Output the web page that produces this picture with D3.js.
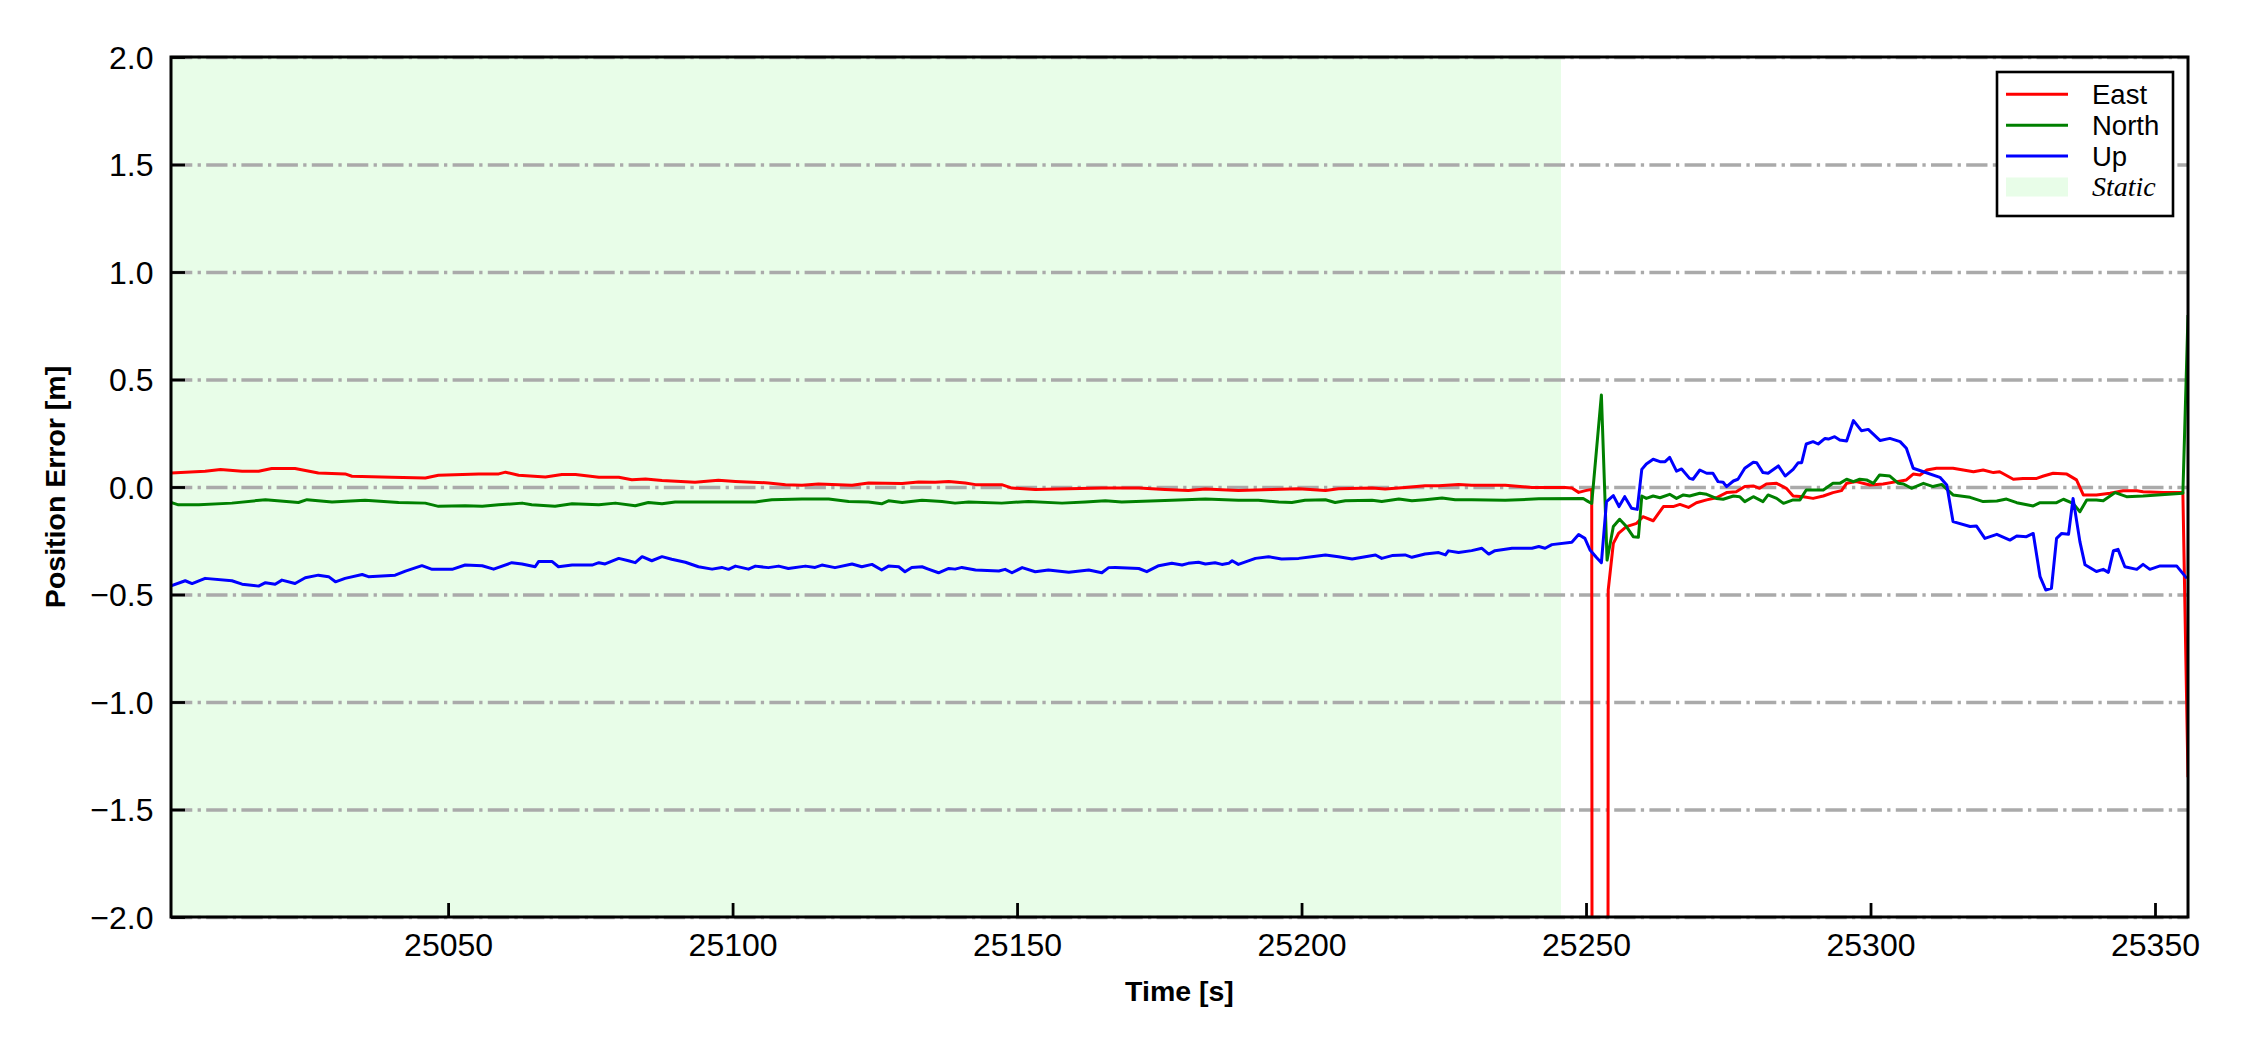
<!DOCTYPE html>
<html><head><meta charset="utf-8">
<script src="https://cdn.jsdelivr.net/npm/d3@7"></script>
<style>html,body{margin:0;padding:0;background:#fff;} svg{display:block;}</style>
</head><body><svg id="c" width="2250" height="1050"></svg>
<script>
// ---------- data ----------
const xDomain = [25001.3, 25355.8];
const yDomain = [-2, 2];
const xTicks = [25050, 25100, 25150, 25200, 25250, 25300, 25350];
const yTicks = [-2, -1.5, -1, -0.5, 0, 0.5, 1, 1.5, 2];
const staticSpan = [25001.3, 25245.6];
const seriesNames = ["East", "North", "Up"];
const staticLabel = "Static";
const xLabel = "Time [s]";
const yLabel = "Position Error [m]";

const east = [[25001.3,0.065],[25007.3,0.073],[25010,0.081],[25013.8,0.073],[25016.7,0.073],[25019,0.086],[25023.1,0.086],[25027.2,0.065],[25031.9,0.061],[25033.1,0.050],[25040.1,0.045],[25046,0.042],[25048.3,0.055],[25055.4,0.061],[25058.9,0.061],[25060.1,0.069],[25062.4,0.055],[25067.1,0.047],[25070,0.058],[25072.4,0.058],[25076.5,0.045],[25080,0.045],[25082.3,0.034],[25084.7,0.037],
[25087.6,0.030],[25093.4,0.022],[25097.5,0.031],[25100.5,0.026],[25106.3,0.019],[25109.3,0.011],[25112.2,0.008],[25115.1,0.014],[25121,0.008],[25123.9,0.019],[25129.8,0.016],[25132.7,0.023],[25135.6,0.022],[25138,0.026],[25140.9,0.019],[25142.7,0.011],[25147.3,0.011],[25149.1,-0.005],[25153.2,-0.012],[25159.1,-0.008],[25164.9,-0.005],
[25171.4,-0.005],[25176,-0.012],[25180.1,-0.016],[25183.1,-0.009],[25188.9,-0.016],[25194.8,-0.012],[25199.5,-0.008],[25204.2,-0.016],[25206.5,-0.008],[25212.4,-0.005],[25214.7,-0.009],[25218.2,-0.002],[25221.7,0.006],[25224.1,0.006],[25227.6,0.012],[25229.9,0.008],[25235.8,0.008],[25240.5,-0.002],[25246.3,-0.002],[25247.5,-0.005],[25248.7,-0.025],[25249.9,-0.017],[25251,-0.011],[25252,-40],[25253,-40],[25253.9,-0.479],[25254.8,-0.262],[25255.7,-0.216],[25257.1,-0.184],[25258.9,-0.169],[25260,-0.138],[25261.8,-0.157],[25263.6,-0.091],[25265.3,-0.091],[25266.5,-0.081],[25268,-0.095],[25269.4,-0.073],[25271.2,-0.060],[25272.9,-0.050],[25274.7,-0.026],[25276.4,-0.022],[25277.9,0.002],[25279.4,0.005],[25280.5,-0.006],[25281.7,0.014],[25283.5,0.017],[25285.2,-0.006],[25286.4,-0.042],[25288.2,-0.045],[25289.9,-0.053],[25291.7,-0.042],[25293.4,-0.026],[25294.9,-0.017],[25295.8,0.017],[25297.5,0.025],[25299.9,0.009],
[25302.2,0.014],[25304.6,0.025],[25306.3,0.033],[25307.5,0.060],[25308.7,0.056],[25309.9,0.079],[25311.6,0.087],[25314.5,0.087],[25316.3,0.079],[25318.1,0.071],[25319.8,0.079],[25321.6,0.067],[25322.7,0.071],[25325.1,0.036],[25326.8,0.040],[25329.2,0.040],[25330.4,0.051],[25332.1,0.064],[25334.5,0.060],[25336.2,0.033],[25337.4,-0.037],[25339.7,-0.037],[25342.1,-0.029],[25344.4,-0.017],[25346.8,-0.017],[25347.9,-0.022],[25351.5,-0.026],[25354.9,-0.026],[25355.8,-1.35]];

const north = [[25001.3,-0.072],[25002.6,-0.083],[25006.2,-0.083],[25012,-0.075],[25017.9,-0.059],[25023.7,-0.072],[25025.2,-0.059],[25029.6,-0.070],[25035.4,-0.062],[25041.3,-0.072],[25046,-0.075],[25048.3,-0.090],[25053,-0.087],[25056,-0.090],[25058.9,-0.083],[25063,-0.075],[25064.7,-0.083],[25068.8,-0.090],[25071.8,-0.078],[25076.5,-0.083],[25079.4,-0.075],[25082.9,-0.087],[25085.2,-0.072],[25087.6,-0.078],[25089.9,-0.070],[25094.6,-0.070],[25100.5,-0.070],[25104,-0.070],[25106.9,-0.059],[25112.2,-0.056],[25116.9,-0.056],[25120.4,-0.067],[25123.9,-0.070],[25126.2,-0.078],[25127.4,-0.064],[25129.8,-0.072],[25133.3,-0.062],[25136.8,-0.067],[25139.1,-0.075],[25141.5,-0.070],[25147.3,-0.075],[25152,-0.067],[25157.9,-0.075],[25162,-0.070],[25165.5,-0.064],[25168.4,-0.070],[25177.2,-0.062],[25183.1,-0.056],[25188.9,-0.062],[25192.4,-0.062],[25196,-0.070],[25198.3,-0.072],[25200.6,-0.062],[25204.2,-0.059],[25205.9,-0.072],[25207.7,-0.064],[25212.4,-0.062],[25214.1,-0.067],[25217.1,-0.056],[25219.4,-0.064],[25221.7,-0.059],[25224.7,-0.051],[25227,-0.059],[25229.9,-0.059],[25235.8,-0.062],[25241.7,-0.055],[25249.5,-0.053],[25250.4,-0.068],[25251,-0.076],[25252.7,0.428],[25253.7,-0.340],[25254.8,-0.184],[25255.9,-0.150],[25257.1,-0.184],[25258.3,-0.231],[25259.2,-0.234],[25259.8,-0.042],[25260.6,-0.053],[25261.8,-0.042],[25263,-0.050],[25264.7,-0.034],[25265.9,-0.053],[25267.1,-0.037],[25268.2,-0.042],[25270,-0.029],[25271.2,-0.034],[25272.9,-0.053],[25274.1,-0.057],[25275.9,-0.042],[25277,-0.045],[25277.9,-0.068],[25279.4,-0.045],[25281.1,-0.068],[25282,-0.037],[25283.5,-0.053],[25284.7,-0.076],[25286.4,-0.060],[25287.6,-0.060],[25288.7,-0.014],[25291.7,-0.014],[25293.4,0.017],[25294.6,0.017],[25295.8,0.036],[25297,0.025],[25298.1,0.036],[25299.3,0.033],[25300.5,0.017],[25301.6,0.056],[25303.4,0.051],[25304.9,0.017],[25305.8,0.014],[25307.2,-0.006],[25309.3,0.017],[25311,0.002],[25312.5,0.012],[25314.5,-0.037],[25317.5,-0.048],[25319.8,-0.068],[25322.2,-0.065],[25323.9,-0.056],[25325.7,-0.073],[25328.6,-0.088],[25329.8,-0.073],[25332.7,-0.073],[25333.9,-0.057],[25335.6,-0.076],[25336.8,-0.115],[25338,-0.060],[25339.7,-0.060],[25340.9,-0.064],[25343,-0.026],[25345,-0.045],[25347.9,-0.042],[25354.9,-0.029],[25355.8,0.80]];

const up = [[25001.3,-0.460],[25003.8,-0.436],[25005,-0.449],[25007.3,-0.425],[25012,-0.436],[25013.8,-0.452],[25016.7,-0.461],[25017.9,-0.445],[25019.6,-0.452],[25020.8,-0.433],[25023.1,-0.449],[25024.9,-0.422],[25027.2,-0.410],[25029,-0.417],[25030.2,-0.441],[25031.9,-0.425],[25034.9,-0.407],[25036,-0.417],[25040.7,-0.410],[25042.5,-0.391],[25045.4,-0.366],[25047.2,-0.383],[25050.7,-0.383],[25053,-0.363],[25056,-0.366],[25058,-0.382],[25061.2,-0.352],[25063,-0.358],[25065.3,-0.371],[25065.9,-0.347],[25068.3,-0.347],[25069.4,-0.371],[25071.8,-0.363],[25075.3,-0.363],[25076.5,-0.352],[25077.6,-0.358],[25080,-0.332],[25081.7,-0.343],[25082.9,-0.352],[25084.1,-0.324],[25085.8,-0.343],[25087.6,-0.324],[25089.3,-0.336],[25091.7,-0.350],[25094,-0.371],[25096.4,-0.382],[25098.1,-0.374],[25099.3,-0.383],[25100.5,-0.368],[25102.8,-0.382],[25104,-0.368],[25106.3,-0.375],[25108.1,-0.368],[25109.8,-0.379],[25112.8,-0.368],[25114.5,-0.374],[25115.7,-0.363],[25118,-0.375],[25121,-0.358],[25122.7,-0.371],[25124.5,-0.360],[25126.2,-0.386],[25127.4,-0.368],[25129.2,-0.371],[25130.3,-0.394],[25131.5,-0.374],[25133.3,-0.371],[25134.4,-0.382],[25136.2,-0.399],[25138,-0.379],[25139.1,-0.382],[25140.3,-0.374],[25142.7,-0.386],[25146.8,-0.391],[25147.9,-0.383],[25149.1,-0.399],[25150.9,-0.375],[25153.2,-0.394],[25155.5,-0.386],[25159.1,-0.397],[25162.6,-0.386],[25164.9,-0.399],[25166.1,-0.375],[25167.3,-0.374],[25171.4,-0.379],[25172.8,-0.394],[25174.9,-0.366],[25177.2,-0.355],[25179,-0.363],[25180.1,-0.355],[25181.9,-0.350],[25183.1,-0.358],[25184.8,-0.352],[25186,-0.360],[25187.2,-0.355],[25187.8,-0.343],[25188.9,-0.360],[25191.9,-0.332],[25194.2,-0.324],[25196.5,-0.335],[25199.5,-0.332],[25201.8,-0.324],[25204.2,-0.316],[25206.5,-0.324],[25208.9,-0.335],[25211.2,-0.324],[25213,-0.316],[25214.1,-0.332],[25215.9,-0.319],[25218.2,-0.316],[25219.4,-0.327],[25221.7,-0.312],[25224.1,-0.305],[25225.3,-0.316],[25225.8,-0.297],[25227.6,-0.305],[25229.9,-0.296],[25231.7,-0.285],[25232.9,-0.312],[25234,-0.296],[25237,-0.285],[25240.5,-0.285],[25241.7,-0.277],[25242.8,-0.285],[25244,-0.268],[25247.5,-0.257],[25248.7,-0.221],[25249.8,-0.239],[25250.7,-0.293],[25251.8,-0.327],[25252.7,-0.352],[25253.6,-0.068],[25254.8,-0.040],[25255.8,-0.091],[25256.8,-0.045],[25258,-0.099],[25259,-0.104],[25259.8,0.082],[25260.6,0.107],[25261.8,0.129],[25263,0.118],[25263.9,0.118],[25264.7,0.138],[25265.9,0.074],[25266.8,0.084],[25268.2,0.040],[25268.8,0.036],[25270,0.079],[25271.2,0.064],[25272.3,0.064],[25273.2,0.025],[25274.1,0.022],[25274.7,0.002],[25275.9,0.028],[25276.7,0.036],[25277.9,0.087],[25279.4,0.115],[25280,0.113],[25281.1,0.067],[25282,0.064],[25283.8,0.098],[25285,0.051],[25286.4,0.082],[25287.3,0.113],[25287.9,0.113],[25288.7,0.200],[25289.9,0.211],[25290.8,0.200],[25292,0.226],[25292.6,0.223],[25293.7,0.234],[25294.6,0.219],[25295.8,0.214],[25297,0.309],[25298.4,0.262],[25299.6,0.268],[25301.7,0.216],[25303.4,0.226],[25305.2,0.211],[25306.3,0.180],[25307.5,0.087],[25309.3,0.071],[25312.2,0.045],[25313.4,0.009],[25314.5,-0.161],[25317.5,-0.184],[25318.6,-0.181],[25320.1,-0.239],[25322.2,-0.220],[25324.5,-0.247],[25325.7,-0.228],[25327.4,-0.231],[25328.6,-0.216],[25329.8,-0.417],[25330.8,-0.479],[25331.8,-0.471],[25332.7,-0.239],[25333.6,-0.216],[25334.8,-0.220],[25335.6,-0.053],[25336.8,-0.254],[25337.7,-0.362],[25339.7,-0.393],[25340.9,-0.383],[25341.8,-0.397],[25342.7,-0.296],[25343.5,-0.290],[25344.7,-0.371],[25346.8,-0.383],[25347.9,-0.360],[25349.1,-0.383],[25350.9,-0.367],[25353.8,-0.367],[25355.6,-0.425]];

// ---------- styles / layout ----------
const seriesColors = ["#ff0000", "#008000", "#0000ff"];
const staticColor = "#e8fde8";
const SANS = "'Liberation Sans', Arial, Helvetica, sans-serif";
const SERIF = "'Liberation Serif', 'Times New Roman', serif";
const W = 2250, H = 1050;
const m = {l: 171, r: 2188, t: 57, b: 917};

const svg = d3.select("#c");
svg.append("rect").attr("width", W).attr("height", H).attr("fill", "#fff");

const x = d3.scaleLinear().domain(xDomain).range([m.l, m.r]);
const y = d3.scaleLinear().domain(yDomain).range([m.b, m.t]);

svg.append("defs").append("clipPath").attr("id", "clip")
  .append("rect").attr("x", m.l).attr("y", m.t).attr("width", m.r - m.l).attr("height", m.b - m.t);

// static span
svg.append("rect")
  .attr("x", x(staticSpan[0])).attr("y", m.t)
  .attr("width", x(staticSpan[1]) - x(staticSpan[0])).attr("height", m.b - m.t)
  .attr("fill", staticColor).attr("clip-path", "url(#clip)");

// grid
const grid = svg.append("g").attr("transform", `translate(${m.l},0)`)
  .call(d3.axisLeft(y).tickValues(yTicks).tickSize(-(m.r - m.l)).tickFormat(""));
grid.select(".domain").remove();
grid.selectAll("line").attr("stroke", "#aaaaaa").attr("stroke-width", 3.3)
  .attr("stroke-dasharray", "21.3,5.3,3.3,5.3");

// lines
const line = d3.line().x(d => x(d[0])).y(d => y(d[1]));
const plot = svg.append("g").attr("clip-path", "url(#clip)");
[east, north, up].forEach((s, i) => {
  plot.append("path").datum(s).attr("d", line)
    .attr("fill", "none").attr("stroke", seriesColors[i])
    .attr("stroke-width", 3).attr("stroke-linejoin", "round");
});

// axes
const xAxis = svg.append("g").attr("transform", `translate(0,${m.b})`)
  .call(d3.axisBottom(x).tickValues(xTicks).tickSizeInner(-14).tickSizeOuter(0).tickPadding(16).tickFormat(d3.format("d")));
const yAxis = svg.append("g").attr("transform", `translate(${m.l},0)`)
  .call(d3.axisLeft(y).tickValues(yTicks).tickSizeInner(-14).tickSizeOuter(0).tickPadding(17.5).tickFormat(d3.format(".1f")));
[xAxis, yAxis].forEach(a => {
  a.select(".domain").remove();
  a.selectAll("line").attr("stroke", "#000").attr("stroke-width", 2.8);
  a.selectAll("text").attr("font-family", SANS).attr("font-size", 32).attr("fill", "#000");
});
yAxis.selectAll("text").attr("dy", "0.35em");

// spines
svg.append("rect").attr("x", m.l).attr("y", m.t).attr("width", m.r - m.l).attr("height", m.b - m.t)
  .attr("fill", "none").attr("stroke", "#000").attr("stroke-width", 3);

// axis labels
svg.append("text").attr("x", (m.l + m.r) / 2).attr("y", 1001).attr("text-anchor", "middle")
  .attr("font-family", SANS).attr("font-weight", "bold").attr("font-size", 28.5).text(xLabel);
svg.append("text").attr("transform", `translate(65,${(m.t + m.b) / 2}) rotate(-90)`).attr("text-anchor", "middle")
  .attr("font-family", SANS).attr("font-weight", "bold").attr("font-size", 28.5).text(yLabel);

// legend
const lg = svg.append("g");
lg.append("rect").attr("x", 1997).attr("y", 72).attr("width", 176).attr("height", 144)
  .attr("fill", "#fff").attr("stroke", "#000").attr("stroke-width", 2.6);
const rowY = i => 94.3 + i * 30.9;
seriesNames.forEach((n, i) => {
  lg.append("line").attr("x1", 2006).attr("x2", 2068).attr("y1", rowY(i)).attr("y2", rowY(i))
    .attr("stroke", seriesColors[i]).attr("stroke-width", 3);
  lg.append("text").attr("x", 2092).attr("y", rowY(i) + 9.8)
    .attr("font-family", SANS).attr("font-size", 27.5).text(n);
});
lg.append("rect").attr("x", 2006).attr("y", rowY(3) - 9.5).attr("width", 62).attr("height", 19)
  .attr("fill", staticColor);
lg.append("text").attr("x", 2092).attr("y", rowY(3) + 9)
  .attr("font-family", SERIF).attr("font-style", "italic").attr("font-size", 28).text(staticLabel);
</script>
</body></html>
